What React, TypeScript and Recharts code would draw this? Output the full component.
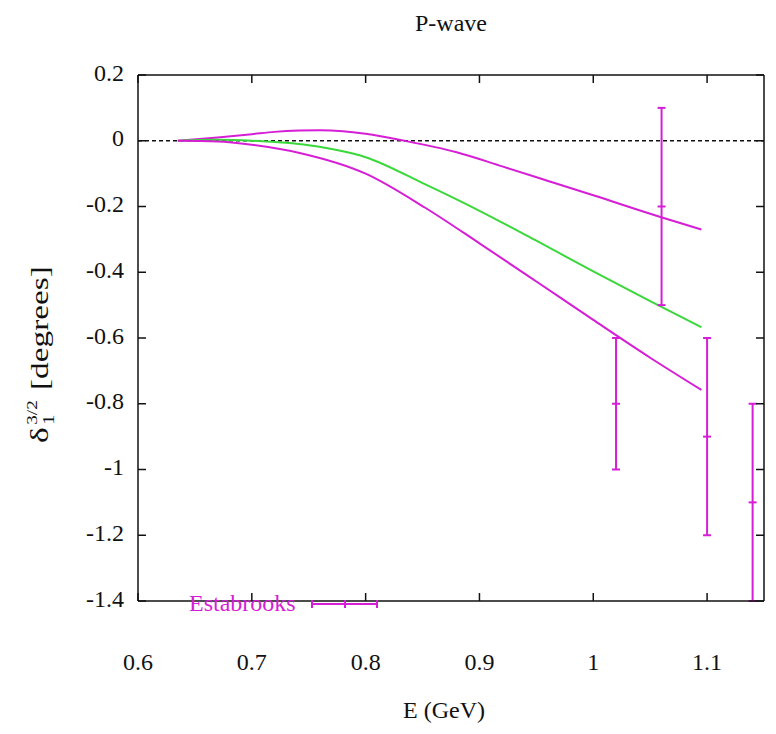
import React from 'react';
import {
  ComposedChart,
  Line,
  Scatter,
  ErrorBar,
  XAxis,
  YAxis,
  Legend,
} from 'recharts';

// curves: energy (GeV) and phase shift (degrees)
const upperE = [0.635, 0.67, 0.7, 0.72, 0.742, 0.76, 0.78, 0.8, 0.834, 0.88, 0.92, 0.961, 1.0, 1.059, 1.095];
const upperD = [0, 0.01, 0.02, 0.027, 0.031, 0.032, 0.029, 0.021, 0, -0.035, -0.078, -0.123, -0.166, -0.232, -0.27];

const greenE = [0.635, 0.67, 0.7, 0.75, 0.8, 0.852, 0.9, 0.95, 1.0, 1.05, 1.095];
const greenD = [0, 0.003, 0, -0.014, -0.05, -0.132, -0.213, -0.304, -0.397, -0.488, -0.567];

const lowerE = [0.635, 0.67, 0.7, 0.742, 0.8, 0.852, 0.9, 0.95, 1.0, 1.05, 1.095];
const lowerD = [0, -0.002, -0.012, -0.037, -0.1, -0.203, -0.312, -0.428, -0.545, -0.66, -0.758];

// Estabrooks data points
const estE = [1.02, 1.06, 1.1, 1.14];
const estD = [-0.8, -0.2, -0.9, -1.1];
const estErr = [0.2, 0.3, 0.3, 0.3];

const xTicks = [0.6, 0.7, 0.8, 0.9, 1, 1.1];
const yTicks = [0.2, 0, -0.2, -0.4, -0.6, -0.8, -1, -1.2, -1.4];
const zeroLine = [
  { x: 0.6, y: 0 },
  { x: 1.15, y: 0 },
];

const MAGENTA = '#d61ed6';
const GREEN = '#3ad83a';
const FONT = 'Liberation Serif, Tinos, DejaVu Serif, serif';

const toPoints = (xs: number[], ys: number[]) => xs.map((x, i) => ({ x, y: ys[i] }));

const upperData = toPoints(upperE, upperD);
const greenData = toPoints(greenE, greenD);
const lowerData = toPoints(lowerE, lowerD);
const estData = estE.map((x, i) => ({ x, y: estD[i], err: estErr[i] }));

const fmt = (v: number) => String(Math.round(v * 10) / 10);

const CenterTick = (props: any) => {
  const { cx, cy } = props;
  return <line x1={cx - 4} x2={cx + 4} y1={cy} y2={cy} stroke={MAGENTA} strokeWidth={2} />;
};

const XTick = (props: any) => {
  const { x, y, payload } = props;
  return (
    <text x={x} y={y + 27} textAnchor="middle" dominantBaseline="middle" style={{ fontFamily: FONT, fontSize: 24 }} fill="#111">
      {fmt(payload.value)}
    </text>
  );
};

const YTick = (props: any) => {
  const { x, y, payload } = props;
  return (
    <text x={x} y={y} textAnchor="end" dominantBaseline="middle" style={{ fontFamily: FONT, fontSize: 24 }} fill="#111">
      {fmt(payload.value)}
    </text>
  );
};

const NoTick = () => <g />;

const YLabel = () => (
  <text
    transform="translate(48, 443) rotate(-90) scale(1.28, 1)"
    textAnchor="start"
    style={{ fontFamily: FONT, fontSize: 26 }}
    fill="#111"
  >
    <tspan>δ</tspan>
    <tspan style={{ fontSize: 16 }} dx={2} dy={6}>1</tspan>
    <tspan style={{ fontSize: 15 }} dx={-8} dy={-17}>3/2</tspan>
    <tspan dx={8} dy={11}>[degrees]</tspan>
  </text>
);

const LegendBox = () => (
  <div style={{ display: 'flex', alignItems: 'center', fontFamily: FONT }}>
    <span style={{ color: MAGENTA, fontSize: 24 }}>Estabrooks</span>
    <svg width={70} height={14} style={{ marginLeft: 14 }}>
      <line x1={2} x2={67} y1={7} y2={7} stroke={MAGENTA} strokeWidth={2} />
      <line x1={2} x2={2} y1={3} y2={11} stroke={MAGENTA} strokeWidth={2} />
      <line x1={67} x2={67} y1={3} y2={11} stroke={MAGENTA} strokeWidth={2} />
      <line x1={35} x2={35} y1={3} y2={11} stroke={MAGENTA} strokeWidth={2} />
    </svg>
  </div>
);

const axisStroke = { stroke: '#111', strokeWidth: 1.5 };

export default function App() {
  return (
    <div
      style={{
        position: 'absolute',
        left: 0,
        top: 0,
        width: 776,
        height: 734,
        background: '#fff',
        fontFamily: FONT,
        color: '#111',
      }}
    >
      <div style={{ position: 'absolute', top: 10, left: 138, width: 626, textAlign: 'center', fontSize: 24 }}>
        P-wave
      </div>
      <div style={{ position: 'absolute', top: 697, left: 0, width: 888, textAlign: 'center', fontSize: 24 }}>
        E (GeV)
      </div>
      <ComposedChart
        width={776}
        height={734}
        margin={{ top: 65, right: 2, bottom: 0, left: 0 }}
        style={{ position: 'absolute', left: 0, top: 0 }}
      >
        <XAxis
          type="number"
          dataKey="x"
          xAxisId="bottom"
          domain={[0.6, 1.15]}
          ticks={xTicks}
          interval={0}
          allowDataOverflow
          height={106}
          tickSize={-8}
          tickMargin={44}
          tick={<XTick />}
          axisLine={axisStroke}
          tickLine={axisStroke}
        />
        <XAxis
          type="number"
          dataKey="x"
          xAxisId="top"
          orientation="top"
          domain={[0.6, 1.15]}
          ticks={xTicks}
          interval={0}
          allowDataOverflow
          height={10}
          tickSize={-8}
          tick={<NoTick />}
          axisLine={axisStroke}
          tickLine={axisStroke}
        />
        <YAxis
          type="number"
          dataKey="y"
          yAxisId="left"
          domain={[-1.4, 0.2]}
          ticks={yTicks}
          interval={0}
          allowDataOverflow
          width={138}
          tickSize={-8}
          tickMargin={22}
          tick={<YTick />}
          axisLine={axisStroke}
          tickLine={axisStroke}
          label={<YLabel />}
        />
        <YAxis
          type="number"
          dataKey="y"
          yAxisId="right"
          orientation="right"
          domain={[-1.4, 0.2]}
          ticks={yTicks}
          interval={0}
          allowDataOverflow
          width={10}
          tickSize={-8}
          tick={<NoTick />}
          axisLine={axisStroke}
          tickLine={axisStroke}
        />
        <Legend
          verticalAlign="bottom"
          content={<LegendBox />}
          wrapperStyle={{ position: 'absolute', left: 189, top: 590, width: 'auto', bottom: 'auto' }}
        />
        <Line
          data={zeroLine}
          xAxisId="top"
          yAxisId="right"
          dataKey="y"
          type="linear"
          stroke="#111"
          strokeWidth={1.5}
          strokeDasharray="4 3"
          dot={false}
          isAnimationActive={false}
          legendType="none"
        />
        <Line
          data={upperData}
          xAxisId="bottom"
          yAxisId="left"
          dataKey="y"
          type="monotone"
          stroke={MAGENTA}
          strokeWidth={2}
          dot={false}
          isAnimationActive={false}
        />
        <Line
          data={greenData}
          xAxisId="bottom"
          yAxisId="left"
          dataKey="y"
          type="monotone"
          stroke={GREEN}
          strokeWidth={2}
          dot={false}
          isAnimationActive={false}
        />
        <Line
          data={lowerData}
          xAxisId="bottom"
          yAxisId="left"
          dataKey="y"
          type="monotone"
          stroke={MAGENTA}
          strokeWidth={2}
          dot={false}
          isAnimationActive={false}
        />
        <Scatter
          data={estData}
          xAxisId="bottom"
          yAxisId="left"
          dataKey="y"
          shape={<CenterTick />}
          isAnimationActive={false}
        >
          <ErrorBar dataKey="err" direction="y" width={4} stroke={MAGENTA} strokeWidth={2} />
        </Scatter>
      </ComposedChart>
    </div>
  );
}
